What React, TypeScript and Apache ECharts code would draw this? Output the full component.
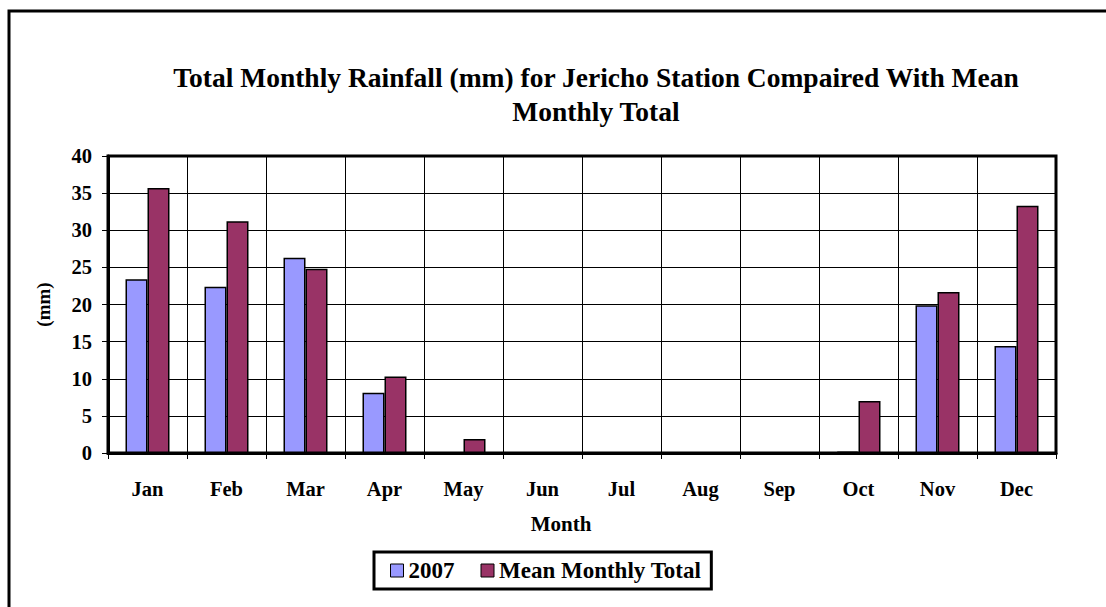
import React, { useEffect, useRef } from "react";
import * as echarts from "echarts";

const months = ["Jan", "Feb", "Mar", "Apr", "May", "Jun", "Jul", "Aug", "Sep", "Oct", "Nov", "Dec"];
const rain2007 = [23.4, 22.4, 26.3, 8.1, 0, 0, 0, 0, 0, 0.2, 19.9, 14.4];
const meanMonthly = [35.7, 31.2, 24.8, 10.3, 1.9, 0, 0, 0, 0, 7.0, 21.7, 33.3];
const yTicks = { min: 0, max: 40, interval: 5 };

const FONT = "Liberation Serif";

export default function App() {
  const ref = useRef<HTMLDivElement>(null);
  useEffect(() => {
    if (!ref.current) return;
    const chart = echarts.init(ref.current, null, { renderer: "svg" });
    chart.setOption({
      animation: false,
      backgroundColor: "#ffffff",
      textStyle: { fontFamily: FONT, color: "#000" },
      title: {
        text: "Total Monthly Rainfall (mm) for Jericho Station Compaired With Mean\nMonthly Total",
        left: 591,
        top: 55,
        textAlign: "center",
        textStyle: {
          fontFamily: FONT,
          fontWeight: "bold",
          fontSize: 27.5,
          lineHeight: 34,
          color: "#000",
        },
      },
      graphic: [
        {
          type: "rect",
          shape: { x: 9, y: 11, width: 1110, height: 610 },
          style: { fill: "none", stroke: "#000", lineWidth: 3 },
          silent: true,
        },
      ],
      legend: {
        data: ["2007", "Mean Monthly Total"],
        left: 374,
        top: 552,
        padding: [7, 10, 7, 16],
        itemGap: 26,
        itemWidth: 13,
        itemHeight: 13,
        icon: "rect",
        borderColor: "#000",
        borderWidth: 3,
        textStyle: { fontFamily: FONT, fontWeight: "bold", fontSize: 23, color: "#000" },
        itemStyle: { borderColor: "#000", borderWidth: 1 },
      },
      grid: {
        left: 108,
        right: 50,
        top: 156,
        bottom: 154,
        show: true,
        borderColor: "#000",
        borderWidth: 3,
      },
      xAxis: {
        type: "category",
        data: months,
        name: "Month",
        nameLocation: "middle",
        nameGap: 60,
        nameTextStyle: { fontFamily: FONT, fontWeight: "bold", fontSize: 21, color: "#000", padding: [0, 42, 0, 0] },
        axisLine: { show: true, lineStyle: { color: "#000", width: 3 } },
        axisTick: { show: true, length: 6, lineStyle: { color: "#000", width: 1 } },
        axisLabel: { fontFamily: FONT, fontWeight: "bold", fontSize: 20.5, color: "#000", margin: 25 },
        splitLine: { show: true, lineStyle: { color: "#000", width: 1 } },
      },
      yAxis: {
        type: "value",
        min: yTicks.min,
        max: yTicks.max,
        interval: yTicks.interval,
        name: "(mm)",
        nameLocation: "middle",
        nameGap: 55,
        nameRotate: 90,
        nameTextStyle: { fontFamily: FONT, fontWeight: "bold", fontSize: 19, color: "#000" },
        axisLine: { show: true, lineStyle: { color: "#000", width: 3 } },
        axisTick: { show: true, length: 6, lineStyle: { color: "#000", width: 1 } },
        axisLabel: { fontFamily: FONT, fontWeight: "bold", fontSize: 20.5, color: "#000", margin: 16 },
        splitLine: { show: true, lineStyle: { color: "#000", width: 1 } },
      },
      series: [
        {
          name: "2007",
          type: "bar",
          data: rain2007,
          barWidth: 22,
          barGap: "0%",
          itemStyle: { color: "#9999FF", borderColor: "#000", borderWidth: 1.5 },
        },
        {
          name: "Mean Monthly Total",
          type: "bar",
          data: meanMonthly,
          barWidth: 22,
          barGap: "0%",
          itemStyle: { color: "#993366", borderColor: "#000", borderWidth: 1.5 },
        },
      ],
    });
    return () => chart.dispose();
  }, []);
  return <div ref={ref} style={{ width: 1106, height: 607, position: "absolute", left: 0, top: 0 }} />;
}
